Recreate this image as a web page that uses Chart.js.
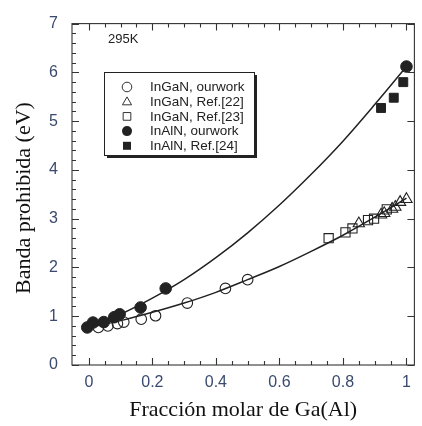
<!DOCTYPE html>
<html>
<head>
<meta charset="utf-8">
<script src="https://cdn.jsdelivr.net/npm/chart.js@4/dist/chart.umd.min.js"></script>
<style>
  body { margin: 0; background: #fff; }
  canvas { display: block; }
</style>
</head>
<body>
<canvas id="gapChart" width="422" height="426"></canvas>
<script>
// tick labels
const xTickValues = [0, 0.2, 0.4, 0.6, 0.8, 1];
const xTickLabels = ["0", "0.2", "0.4", "0.6", "0.8", "1"];
const yTickValues = [0, 1, 2, 3, 4, 5, 6, 7];
const yTickLabels = ["0", "1", "2", "3", "4", "5", "6", "7"];

// InGaN, this work (open circles)
const ingaOurX = [0.03, 0.06, 0.09, 0.11, 0.165, 0.21, 0.31, 0.43, 0.50];
const ingaOurY = [0.77, 0.80, 0.85, 0.88, 0.94, 1.01, 1.27, 1.57, 1.75];

// InGaN, Ref.[22] (open triangles)
const ingaRef22X = [0.85, 0.92, 0.93, 0.955, 0.965, 0.98, 1.0];
const ingaRef22Y = [2.90, 3.08, 3.11, 3.20, 3.24, 3.34, 3.40];

// InGaN, Ref.[23] (open squares)
const ingaRef23X = [0.755, 0.808, 0.83, 0.879, 0.898, 0.938];
const ingaRef23Y = [2.60, 2.72, 2.80, 2.97, 3.00, 3.19];

// InAlN, this work (filled circles)
const inalOurX = [-0.005, 0.013, 0.047, 0.08, 0.097, 0.163, 0.242, 1.0];
const inalOurY = [0.77, 0.87, 0.88, 0.98, 1.04, 1.18, 1.57, 6.12];

// InAlN, Ref.[24] (filled squares)
const inalRef24X = [0.92, 0.96, 0.99];
const inalRef24Y = [5.27, 5.48, 5.80];

// fitted curves
const fitX = [0, 0.1, 0.2, 0.3, 0.4, 0.5, 0.6, 0.7, 0.8, 0.9, 1.0];
const fitIngaY = [0.77, 0.91, 1.08, 1.27, 1.49, 1.75, 2.02, 2.33, 2.66, 3.03, 3.42];
const fitInalY = [0.77, 1.04, 1.37, 1.75, 2.20, 2.71, 3.28, 3.91, 4.59, 5.34, 6.12];

const xMin = -0.053;
const xMax = 1.025;
const yMin = 0;
const yMax = 7;
const xMinorStep = 0.05;
const yMinorStep = 0.2;

const ink = "#222";
const tickColor = "#3a4a6e";

function toPoints(xs, ys) {
  return xs.map((x, i) => ({ x: x, y: ys[i] }));
}

function markerSet(label, xs, ys, style, filled, radius, order) {
  return {
    label: label,
    data: toPoints(xs, ys),
    showLine: false,
    pointStyle: style,
    pointRadius: radius,
    pointBorderWidth: filled ? 1 : 1.1,
    pointBorderColor: ink,
    pointBackgroundColor: filled ? ink : "rgba(0,0,0,0)",
    order: order
  };
}

function lineSet(xs, ys) {
  return {
    label: "",
    data: toPoints(xs, ys),
    showLine: true,
    borderColor: ink,
    borderWidth: 1.5,
    pointRadius: 0,
    cubicInterpolationMode: "monotone",
    fill: false,
    order: 10,
    isFit: true
  };
}

// frame with inward ticks on all four sides
const frameTicks = {
  id: "frameTicks",
  afterDatasetsDraw(chart) {
    const { ctx, chartArea, scales } = chart;
    const { left, right, top, bottom } = chartArea;
    const xs = scales.x;
    const ys = scales.y;

    ctx.save();
    ctx.strokeStyle = "#333";
    ctx.lineWidth = 1.1;
    ctx.strokeRect(left, top, right - left, bottom - top);

    ctx.beginPath();
    const nx = Math.round(1 / xMinorStep);
    for (let i = 0; i <= nx; i++) {
      const px = Math.round(xs.getPixelForValue(i * xMinorStep)) + 0.5;
      const len = i % 4 === 0 ? 7 : 4;
      ctx.moveTo(px, bottom);
      ctx.lineTo(px, bottom - len);
      ctx.moveTo(px, top);
      ctx.lineTo(px, top + len);
    }
    const ny = Math.round((yMax - yMin) / yMinorStep);
    for (let i = 0; i <= ny; i++) {
      const py = Math.round(ys.getPixelForValue(yMin + i * yMinorStep)) + 0.5;
      const major = i % 5 === 0;
      ctx.moveTo(left, py);
      ctx.lineTo(left + (major ? 7 : 4), py);
      if (major) {
        ctx.moveTo(right, py);
        ctx.lineTo(right - 7, py);
      }
    }
    ctx.stroke();
    ctx.restore();
  }
};

function drawSymbol(ctx, style, filled, x, y, r) {
  ctx.beginPath();
  if (style === "circle") {
    ctx.arc(x, y, r, 0, Math.PI * 2);
  } else if (style === "triangle") {
    ctx.moveTo(x, y - r);
    ctx.lineTo(x + r * 0.95, y + r * 0.65);
    ctx.lineTo(x - r * 0.95, y + r * 0.65);
    ctx.closePath();
  } else {
    ctx.rect(x - r * 0.8, y - r * 0.8, r * 1.6, r * 1.6);
  }
  if (filled) {
    ctx.fillStyle = ink;
    ctx.fill();
  } else {
    ctx.strokeStyle = "#333";
    ctx.lineWidth = 1;
    ctx.stroke();
  }
}

// boxed legend, annotation and axis titles
const extras = {
  id: "extras",
  afterDraw(chart) {
    const ctx = chart.ctx;
    const area = chart.chartArea;
    ctx.save();

    // legend box with drop shadow
    const bx = 104, by = 72, bw = 150, bh = 83;
    ctx.fillStyle = "#222";
    ctx.fillRect(bx + 3, by + 3, bw, bh);
    ctx.fillStyle = "#fff";
    ctx.fillRect(bx, by, bw, bh);
    ctx.strokeStyle = "#222";
    ctx.lineWidth = 1;
    ctx.strokeRect(bx + 0.5, by + 0.5, bw, bh);

    const items = chart.data.datasets.filter((d) => !d.isFit);
    ctx.font = "13.5px 'Liberation Sans', Arial, sans-serif";
    ctx.textBaseline = "middle";
    ctx.textAlign = "left";
    items.forEach((d, i) => {
      const rowY = 87 + i * 14.7;
      const filled = d.pointBackgroundColor !== "rgba(0,0,0,0)";
      drawSymbol(ctx, d.pointStyle, filled, 127, rowY, filled ? 5 : 4.8);
      ctx.fillStyle = ink;
      ctx.fillText(d.label, 150, rowY + 0.5);
    });

    // temperature note
    ctx.font = "13px 'Liberation Sans', Arial, sans-serif";
    ctx.fillStyle = ink;
    ctx.fillText("295K", 108, 39);

    // axis titles
    ctx.font = "22px 'Liberation Serif', 'Times New Roman', serif";
    ctx.fillStyle = "#111";
    ctx.textAlign = "center";
    ctx.fillText("Fracción molar de Ga(Al)", (area.left + area.right) / 2, 410);

    ctx.translate(24, 198);
    ctx.rotate(-Math.PI / 2);
    ctx.fillText("Banda prohibida (eV)", 0, 0);

    ctx.restore();
  }
};

const chartCanvas = document.getElementById("gapChart");

new Chart(chartCanvas, {
  type: "scatter",
  data: {
    datasets: [
      markerSet("InGaN, ourwork", ingaOurX, ingaOurY, "circle", false, 5.3, 5),
      markerSet("InGaN, Ref.[22]", ingaRef22X, ingaRef22Y, "triangle", false, 6.5, 4),
      markerSet("InGaN, Ref.[23]", ingaRef23X, ingaRef23Y, "rect", false, 6.5, 3),
      markerSet("InAlN, ourwork", inalOurX, inalOurY, "circle", true, 5.8, 2),
      markerSet("InAlN, Ref.[24]", inalRef24X, inalRef24Y, "rect", true, 6.3, 1),
      lineSet(fitX, fitIngaY),
      lineSet(fitX, fitInalY)
    ]
  },
  options: {
    responsive: false,
    animation: false,
    layout: {
      padding: { left: 0, right: 2, top: 9, bottom: 0 }
    },
    scales: {
      x: {
        type: "linear",
        min: xMin,
        max: xMax,
        afterBuildTicks: (scale) => {
          scale.ticks = xTickValues.map((v) => ({ value: v }));
        },
        afterFit: (scale) => {
          scale.height = 61;
        },
        grid: { display: false, drawTicks: false },
        border: { display: false },
        ticks: {
          padding: 8,
          color: tickColor,
          font: { family: "'Liberation Sans', Arial, sans-serif", size: 16 },
          maxRotation: 0,
          autoSkip: false,
          callback: (value) => xTickLabels[xTickValues.indexOf(value)]
        }
      },
      y: {
        type: "linear",
        min: yMin,
        max: yMax,
        afterBuildTicks: (scale) => {
          scale.ticks = yTickValues.map((v) => ({ value: v }));
        },
        afterFit: (scale) => {
          scale.width = 72;
        },
        grid: { display: false, drawTicks: false },
        border: { display: false },
        ticks: {
          padding: 14,
          color: tickColor,
          font: { family: "'Liberation Sans', Arial, sans-serif", size: 16 },
          autoSkip: false,
          callback: (value) => yTickLabels[yTickValues.indexOf(value)]
        }
      }
    },
    plugins: {
      legend: { display: false },
      tooltip: { enabled: false }
    }
  },
  plugins: [frameTicks, extras]
});
</script>
</body>
</html>
